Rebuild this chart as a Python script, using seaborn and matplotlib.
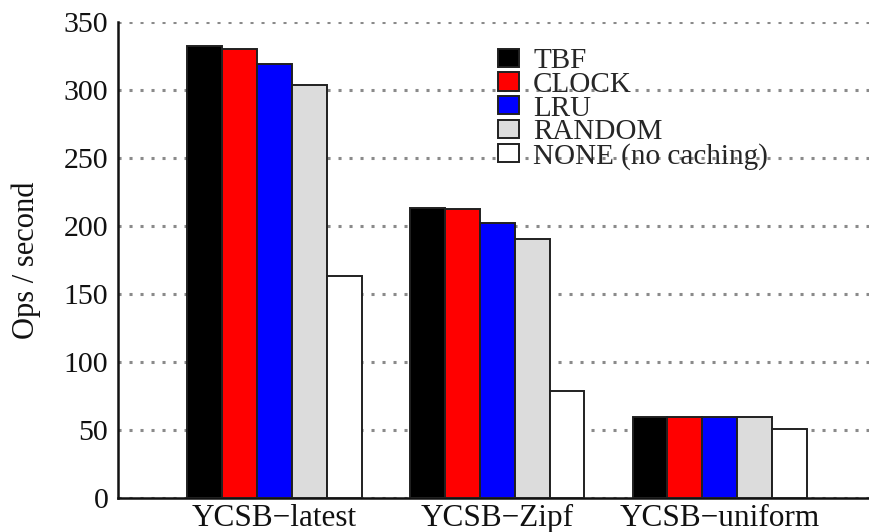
import matplotlib
matplotlib.use("Agg")
import matplotlib.pyplot as plt
import seaborn as sns
import pandas as pd

# Throughput per workload and cache policy
workloads = ["YCSB\u2212latest", "YCSB\u2212Zipf", "YCSB\u2212uniform"]
policies = ["TBF", "CLOCK", "LRU", "RANDOM", "NONE (no caching)"]
tbf = [332.5, 213.5, 59.5]
clock = [330.0, 212.5, 59.5]
lru = [319.0, 202.0, 59.5]
random_ = [304.0, 190.5, 59.5]
none = [163.5, 79.0, 51.0]
colors = ["#000000", "#ff0000", "#0000ff", "#dcdcdc", "#ffffff"]
yticks = [0, 50, 100, 150, 200, 250, 300, 350]

series = [tbf, clock, lru, random_, none]
rows = []
for pol, vals in zip(policies, series):
    for wl, v in zip(workloads, vals):
        rows.append({"workload": wl, "policy": pol, "ops": v})
df = pd.DataFrame(rows)

sns.set_theme(style="white")
plt.rcParams["font.family"] = ["Liberation Serif", "DejaVu Serif"]

fig = plt.figure(figsize=(8.69, 5.32), dpi=100)
ax = fig.add_axes([118 / 869, 34 / 532, 751 / 869, 476 / 532])

sns.barplot(data=df, x="workload", y="ops", hue="policy",
            order=workloads, hue_order=policies, palette=colors,
            width=0.784, saturation=1, edgecolor="#202020", linewidth=1.4,
            ax=ax, zorder=3, legend=True)

ax.set_xlim(-0.703, 2.67)
ax.set_ylim(0, 350)
ax.set_yticks(yticks)
ax.set_yticklabels([str(t) for t in yticks])

# dotted horizontal guide lines
ax.yaxis.grid(True, color="#8a8a8a", linestyle=(0, (1, 2.6)), linewidth=2.2, zorder=0)
ax.xaxis.grid(False)
ax.set_axisbelow(True)

for side in ["top", "right"]:
    ax.spines[side].set_visible(False)
for side in ["left", "bottom"]:
    ax.spines[side].set_color("#111111")
    ax.spines[side].set_linewidth(1.8)

ax.tick_params(axis="y", direction="in", length=5, width=1.4, color="#111111",
               labelsize=21.5, pad=7, labelcolor="#111111")
ax.tick_params(axis="x", length=0, labelsize=22.5, pad=4, labelcolor="#111111")

ax.set_xlabel("")
ax.set_ylabel("Ops / second", fontsize=22, color="#111111")
ax.yaxis.set_label_coords(-0.103, 0.5)

handles, labels = ax.get_legend_handles_labels()
ax.legend(handles, labels, loc="upper left", bbox_to_anchor=(0.506, 0.945),
          frameon=False, fontsize=21, handlelength=0.72, handleheight=0.58,
          handletextpad=0.48, labelspacing=-0.08, borderpad=0, borderaxespad=0)

fig.savefig("out.png", dpi=100)
